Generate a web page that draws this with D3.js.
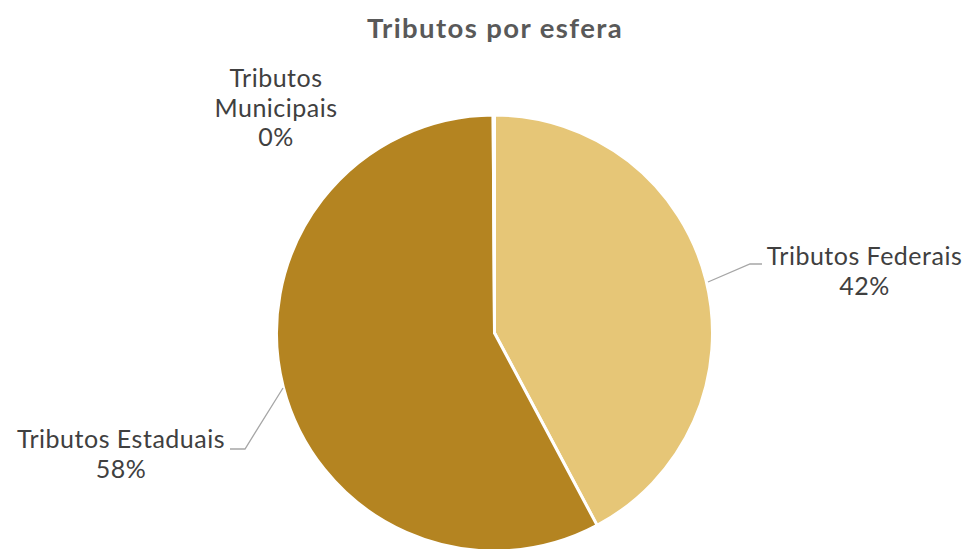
<!DOCTYPE html>
<html><head><meta charset="utf-8">
<script src="https://cdn.jsdelivr.net/npm/d3@7"></script>
<style>body{margin:0;background:#fff}svg{display:block}</style>
</head><body>
<svg id="c" width="968" height="549"></svg>
<script>
const categories = ["Tributos Federais", "Tributos Estaduais", "Tributos Municipais"];
const values = [42.2, 57.7, 0.1];
const colors = ["#E6C677", "#B48421", "#9C6F1B"];
const title = "Tributos por esfera";

const svg = d3.select("#c");
const cx = 494.5, cy = 333, R = 218;
const font = "Lato, 'Open Sans', sans-serif";
const textColor = "#404040";

svg.append("text").attr("x", 495).attr("y", 38).attr("text-anchor", "middle")
  .attr("font-family", font).attr("font-weight", "bold").attr("font-size", 27.5)
  .attr("letter-spacing", 1.4)
  .attr("fill", "#595959").text(title);

const data = categories.map((c, i) => ({name: c, value: values[i], color: colors[i]}));
const pie = d3.pie().value(d => d.value).sort(null);
const arcs = pie(data);
const arc = d3.arc().innerRadius(0).outerRadius(R);
const total = d3.sum(values);

const g = svg.append("g").attr("transform", `translate(${cx},${cy})`);
g.selectAll("path").data(arcs).join("path")
  .attr("d", arc).attr("fill", d => d.data.color)
  .attr("stroke", "#fff").attr("stroke-width", 3).attr("stroke-linejoin", "round");

const labelPos = [
  {lines: ["Tributos Federais"], x: 864.5, y: 265, leader: [[708,282],[750,264],[762,264]]},
  {lines: ["Tributos Estaduais"], x: 121, y: 448, leader: [[283,388],[245,449],[230,449]]},
  {lines: ["Tributos", "Municipais"], x: 276, y: 87, leader: null}
];
arcs.forEach((a, i) => {
  const lp = labelPos[i];
  const pct = Math.round(a.data.value / total * 100) + "%";
  const lines = lp.lines.concat([pct]);
  const t = svg.append("text").attr("text-anchor", "middle")
    .attr("font-family", font).attr("font-size", 25).attr("letter-spacing", 0.5)
    .attr("fill", textColor);
  lines.forEach((l, j) => t.append("tspan").attr("x", lp.x).attr("y", lp.y + j * 29.5).text(l));
  if (lp.leader) {
    svg.append("polyline").attr("points", lp.leader.map(p => p.join(",")).join(" "))
      .attr("fill", "none").attr("stroke", "#a6a6a6").attr("stroke-width", 1.3);
  }
});
</script>
</body></html>
